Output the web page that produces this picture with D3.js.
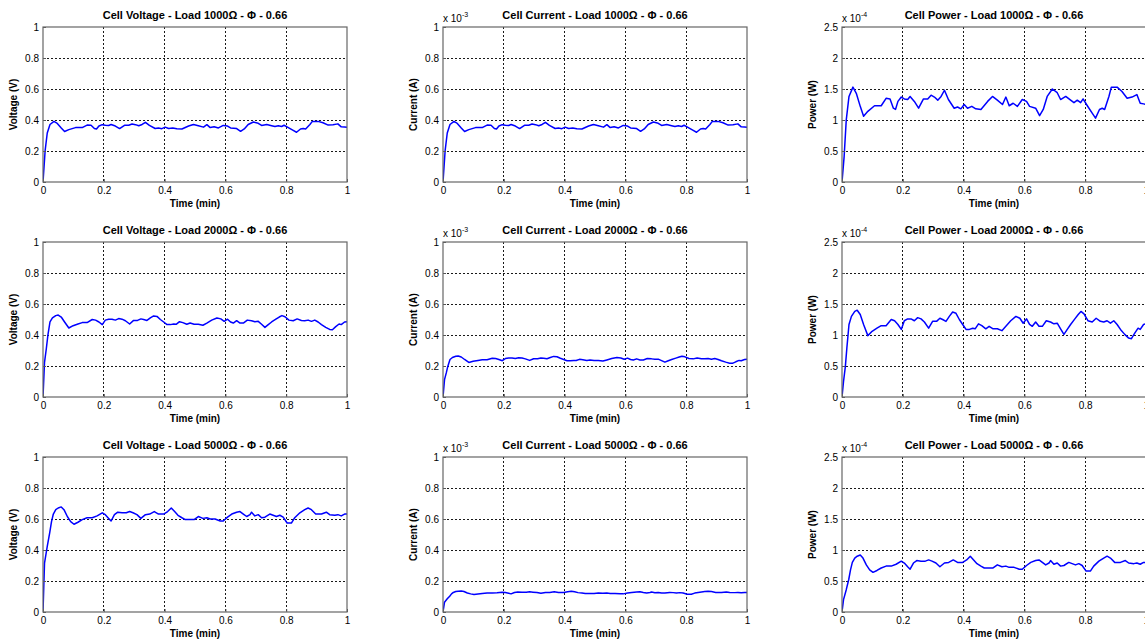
<!DOCTYPE html>
<html>
<head>
<meta charset="utf-8">
<script src="https://cdn.jsdelivr.net/npm/d3@7"></script>
<style>
  html, body { margin: 0; padding: 0; background: #fff; }
  svg { display: block; font-family: "Liberation Sans", Arial, sans-serif; }
</style>
</head>
<body>
<svg id="chart" width="1145" height="643"></svg>
<script>
// Tick values
const timeTicks = [0, 0.2, 0.4, 0.6, 0.8, 1];
const voltTicks = [0, 0.2, 0.4, 0.6, 0.8, 1];
const currTicks = [0, 0.2, 0.4, 0.6, 0.8, 1];
const powerTicks = [0, 0.5, 1, 1.5, 2, 2.5];

// Load 1000 Ω — time (min), voltage (V), current (×1e-3 A), power (×1e-4 W)
const time1000 = [0, 0.007, 0.014, 0.023, 0.036, 0.047, 0.06, 0.071, 0.085, 0.107,
  0.129, 0.145, 0.158, 0.169, 0.176, 0.184, 0.195, 0.205, 0.216, 0.224,
  0.238, 0.252, 0.268, 0.282, 0.293, 0.304, 0.315, 0.326, 0.337, 0.35,
  0.369, 0.38, 0.391, 0.402, 0.413, 0.427, 0.44, 0.457, 0.479, 0.495,
  0.511, 0.528, 0.539, 0.55, 0.563, 0.577, 0.593, 0.607, 0.617, 0.637,
  0.65, 0.662, 0.675, 0.692, 0.708, 0.719, 0.736, 0.752, 0.763, 0.774,
  0.785, 0.793, 0.807, 0.823, 0.834, 0.847, 0.856, 0.864, 0.878, 0.886,
  0.905, 0.921, 0.938, 0.954, 0.97, 0.981, 0.992, 1.0];
const volt1000 = [0, 0.202, 0.316, 0.371, 0.391, 0.378, 0.349, 0.326, 0.338, 0.351,
  0.351, 0.367, 0.366, 0.345, 0.342, 0.361, 0.370, 0.366, 0.365, 0.371,
  0.361, 0.345, 0.366, 0.366, 0.374, 0.370, 0.363, 0.371, 0.385, 0.365,
  0.345, 0.348, 0.344, 0.354, 0.345, 0.349, 0.344, 0.342, 0.361, 0.371,
  0.363, 0.354, 0.370, 0.351, 0.356, 0.349, 0.365, 0.361, 0.349, 0.345,
  0.327, 0.342, 0.371, 0.387, 0.379, 0.365, 0.371, 0.363, 0.358, 0.363,
  0.358, 0.366, 0.351, 0.333, 0.321, 0.342, 0.345, 0.342, 0.371, 0.391,
  0.391, 0.382, 0.367, 0.370, 0.375, 0.356, 0.355, 0.354];
const curr1000 = [0, 0.202, 0.316, 0.371, 0.391, 0.378, 0.349, 0.326, 0.338, 0.351,
  0.351, 0.367, 0.366, 0.345, 0.342, 0.361, 0.370, 0.366, 0.365, 0.371,
  0.361, 0.345, 0.366, 0.366, 0.374, 0.370, 0.363, 0.371, 0.385, 0.365,
  0.345, 0.348, 0.344, 0.354, 0.345, 0.349, 0.344, 0.342, 0.361, 0.371,
  0.363, 0.354, 0.370, 0.351, 0.356, 0.349, 0.365, 0.361, 0.349, 0.345,
  0.327, 0.342, 0.371, 0.387, 0.379, 0.365, 0.371, 0.363, 0.358, 0.363,
  0.358, 0.366, 0.351, 0.333, 0.321, 0.342, 0.345, 0.342, 0.371, 0.391,
  0.391, 0.382, 0.367, 0.370, 0.375, 0.356, 0.355, 0.354];
const power1000 = [0, 0.41, 1.0, 1.38, 1.53, 1.43, 1.22, 1.06, 1.14, 1.23,
  1.23, 1.35, 1.34, 1.19, 1.17, 1.30, 1.37, 1.34, 1.33, 1.38,
  1.30, 1.19, 1.34, 1.34, 1.40, 1.37, 1.32, 1.38, 1.48, 1.33,
  1.19, 1.21, 1.18, 1.25, 1.19, 1.22, 1.18, 1.17, 1.30, 1.38,
  1.32, 1.25, 1.37, 1.23, 1.27, 1.22, 1.33, 1.30, 1.22, 1.19,
  1.07, 1.17, 1.38, 1.50, 1.44, 1.33, 1.38, 1.32, 1.28, 1.32,
  1.28, 1.34, 1.23, 1.11, 1.03, 1.17, 1.19, 1.17, 1.38, 1.53,
  1.53, 1.46, 1.35, 1.37, 1.41, 1.27, 1.26, 1.25];

// Load 2000 Ω
const time2000 = [0, 0.005, 0.011, 0.016, 0.023, 0.031, 0.042, 0.05, 0.06, 0.071,
  0.085, 0.099, 0.115, 0.129, 0.145, 0.162, 0.173, 0.184, 0.195, 0.205,
  0.216, 0.227, 0.238, 0.249, 0.26, 0.271, 0.285, 0.298, 0.311, 0.322,
  0.331, 0.342, 0.353, 0.364, 0.375, 0.386, 0.397, 0.408, 0.419, 0.43,
  0.438, 0.449, 0.46, 0.473, 0.484, 0.497, 0.511, 0.526, 0.539, 0.555,
  0.572, 0.585, 0.596, 0.607, 0.617, 0.626, 0.637, 0.648, 0.659, 0.672,
  0.686, 0.697, 0.708, 0.719, 0.73, 0.741, 0.752, 0.766, 0.777, 0.786,
  0.796, 0.809, 0.823, 0.836, 0.85, 0.861, 0.872, 0.883, 0.894, 0.905,
  0.916, 0.93, 0.943, 0.952, 0.963, 0.974, 0.981, 0.992, 1.0];
const volt2000 = [0, 0.224, 0.313, 0.397, 0.484, 0.510, 0.525, 0.529, 0.516, 0.484,
  0.445, 0.460, 0.471, 0.480, 0.480, 0.500, 0.496, 0.484, 0.467, 0.496,
  0.502, 0.502, 0.496, 0.506, 0.502, 0.492, 0.471, 0.494, 0.494, 0.504,
  0.500, 0.494, 0.510, 0.523, 0.520, 0.500, 0.484, 0.467, 0.467, 0.471,
  0.469, 0.486, 0.480, 0.469, 0.477, 0.469, 0.469, 0.463, 0.477, 0.496,
  0.510, 0.504, 0.488, 0.502, 0.484, 0.477, 0.492, 0.477, 0.477, 0.496,
  0.492, 0.486, 0.488, 0.469, 0.449, 0.467, 0.484, 0.502, 0.516, 0.525,
  0.518, 0.496, 0.492, 0.504, 0.494, 0.492, 0.496, 0.488, 0.496, 0.484,
  0.467, 0.449, 0.436, 0.434, 0.454, 0.471, 0.467, 0.484, 0.486];
const curr2000 = [0, 0.112, 0.157, 0.199, 0.242, 0.255, 0.263, 0.265, 0.258, 0.242,
  0.223, 0.230, 0.236, 0.240, 0.240, 0.250, 0.248, 0.242, 0.234, 0.248,
  0.251, 0.251, 0.248, 0.253, 0.251, 0.246, 0.236, 0.247, 0.247, 0.252,
  0.250, 0.247, 0.255, 0.262, 0.260, 0.250, 0.242, 0.234, 0.234, 0.236,
  0.235, 0.243, 0.240, 0.235, 0.239, 0.235, 0.235, 0.232, 0.239, 0.248,
  0.255, 0.252, 0.244, 0.251, 0.242, 0.239, 0.246, 0.239, 0.239, 0.248,
  0.246, 0.243, 0.244, 0.235, 0.225, 0.234, 0.242, 0.251, 0.258, 0.263,
  0.259, 0.248, 0.246, 0.252, 0.247, 0.246, 0.248, 0.244, 0.248, 0.242,
  0.234, 0.225, 0.218, 0.217, 0.227, 0.236, 0.234, 0.242, 0.243];
const power2000 = [0, 0.25, 0.49, 0.79, 1.17, 1.30, 1.38, 1.40, 1.33, 1.17,
  0.99, 1.06, 1.11, 1.15, 1.15, 1.25, 1.23, 1.17, 1.09, 1.23,
  1.26, 1.26, 1.23, 1.28, 1.26, 1.21, 1.11, 1.22, 1.22, 1.27,
  1.25, 1.22, 1.30, 1.37, 1.35, 1.25, 1.17, 1.09, 1.09, 1.11,
  1.10, 1.18, 1.15, 1.10, 1.14, 1.10, 1.10, 1.07, 1.14, 1.23,
  1.30, 1.27, 1.19, 1.26, 1.17, 1.14, 1.21, 1.14, 1.14, 1.23,
  1.21, 1.18, 1.19, 1.10, 1.01, 1.09, 1.17, 1.26, 1.33, 1.38,
  1.34, 1.23, 1.21, 1.27, 1.22, 1.21, 1.23, 1.19, 1.23, 1.17,
  1.09, 1.01, 0.95, 0.94, 1.03, 1.11, 1.09, 1.17, 1.18];

// Load 5000 Ω
const time5000 = [0, 0.005, 0.014, 0.022, 0.028, 0.034, 0.042, 0.05, 0.06, 0.069,
  0.08, 0.091, 0.102, 0.115, 0.129, 0.145, 0.162, 0.178, 0.195, 0.205,
  0.216, 0.224, 0.235, 0.246, 0.26, 0.274, 0.285, 0.296, 0.309, 0.322,
  0.337, 0.351, 0.366, 0.38, 0.397, 0.41, 0.422, 0.433, 0.444, 0.457,
  0.468, 0.482, 0.497, 0.511, 0.526, 0.539, 0.55, 0.566, 0.583, 0.593,
  0.607, 0.621, 0.637, 0.648, 0.659, 0.67, 0.681, 0.686, 0.697, 0.708,
  0.719, 0.73, 0.746, 0.757, 0.768, 0.779, 0.79, 0.803, 0.817, 0.828,
  0.845, 0.861, 0.872, 0.883, 0.897, 0.916, 0.932, 0.943, 0.96, 0.97,
  0.981, 0.992, 1.0];
const volt5000 = [0, 0.316, 0.424, 0.510, 0.583, 0.632, 0.660, 0.671, 0.678, 0.660,
  0.616, 0.583, 0.566, 0.579, 0.596, 0.608, 0.608, 0.620, 0.640, 0.628,
  0.604, 0.587, 0.628, 0.644, 0.640, 0.640, 0.648, 0.640, 0.628, 0.604,
  0.628, 0.632, 0.648, 0.632, 0.632, 0.648, 0.671, 0.648, 0.624, 0.608,
  0.596, 0.596, 0.596, 0.616, 0.604, 0.608, 0.600, 0.600, 0.587, 0.587,
  0.612, 0.632, 0.644, 0.648, 0.632, 0.616, 0.628, 0.644, 0.620, 0.628,
  0.608, 0.612, 0.632, 0.624, 0.616, 0.624, 0.612, 0.574, 0.574, 0.608,
  0.640, 0.660, 0.671, 0.660, 0.632, 0.632, 0.644, 0.628, 0.624, 0.628,
  0.620, 0.632, 0.632];
const curr5000 = [0, 0.063, 0.085, 0.102, 0.117, 0.126, 0.132, 0.134, 0.136, 0.132,
  0.123, 0.117, 0.113, 0.116, 0.119, 0.122, 0.122, 0.124, 0.128, 0.126,
  0.121, 0.117, 0.126, 0.129, 0.128, 0.128, 0.130, 0.128, 0.126, 0.121,
  0.126, 0.126, 0.130, 0.126, 0.126, 0.130, 0.134, 0.130, 0.125, 0.122,
  0.119, 0.119, 0.119, 0.123, 0.121, 0.122, 0.120, 0.120, 0.117, 0.117,
  0.122, 0.126, 0.129, 0.130, 0.126, 0.123, 0.126, 0.129, 0.124, 0.126,
  0.122, 0.122, 0.126, 0.125, 0.123, 0.125, 0.122, 0.115, 0.115, 0.122,
  0.128, 0.132, 0.134, 0.132, 0.126, 0.126, 0.129, 0.126, 0.125, 0.126,
  0.124, 0.126, 0.126];
const power5000 = [0, 0.20, 0.36, 0.52, 0.68, 0.80, 0.87, 0.90, 0.92, 0.87,
  0.76, 0.68, 0.64, 0.67, 0.71, 0.74, 0.74, 0.77, 0.82, 0.79,
  0.73, 0.69, 0.79, 0.83, 0.82, 0.82, 0.84, 0.82, 0.79, 0.73,
  0.79, 0.80, 0.84, 0.80, 0.80, 0.84, 0.90, 0.84, 0.78, 0.74,
  0.71, 0.71, 0.71, 0.76, 0.73, 0.74, 0.72, 0.72, 0.69, 0.69,
  0.75, 0.80, 0.83, 0.84, 0.80, 0.76, 0.79, 0.83, 0.77, 0.79,
  0.74, 0.75, 0.80, 0.78, 0.76, 0.78, 0.75, 0.66, 0.66, 0.74,
  0.82, 0.87, 0.90, 0.87, 0.80, 0.80, 0.83, 0.79, 0.78, 0.79,
  0.77, 0.80, 0.80];

// Panel table: one row per subplot
const panels = [
  { row: 0, col: 0, title: "Cell Voltage - Load 1000Ω - Φ - 0.66", ylabel: "Voltage (V)", t: time1000, v: volt1000, ticks: voltTicks, exp: null },
  { row: 0, col: 1, title: "Cell Current - Load 1000Ω - Φ - 0.66", ylabel: "Current (A)", t: time1000, v: curr1000, ticks: currTicks, exp: "-3" },
  { row: 0, col: 2, title: "Cell Power - Load 1000Ω - Φ - 0.66", ylabel: "Power (W)", t: time1000, v: power1000, ticks: powerTicks, exp: "-4" },
  { row: 1, col: 0, title: "Cell Voltage - Load 2000Ω - Φ - 0.66", ylabel: "Voltage (V)", t: time2000, v: volt2000, ticks: voltTicks, exp: null },
  { row: 1, col: 1, title: "Cell Current - Load 2000Ω - Φ - 0.66", ylabel: "Current (A)", t: time2000, v: curr2000, ticks: currTicks, exp: "-3" },
  { row: 1, col: 2, title: "Cell Power - Load 2000Ω - Φ - 0.66", ylabel: "Power (W)", t: time2000, v: power2000, ticks: powerTicks, exp: "-4" },
  { row: 2, col: 0, title: "Cell Voltage - Load 5000Ω - Φ - 0.66", ylabel: "Voltage (V)", t: time5000, v: volt5000, ticks: voltTicks, exp: null },
  { row: 2, col: 1, title: "Cell Current - Load 5000Ω - Φ - 0.66", ylabel: "Current (A)", t: time5000, v: curr5000, ticks: currTicks, exp: "-3" },
  { row: 2, col: 2, title: "Cell Power - Load 5000Ω - Φ - 0.66", ylabel: "Power (W)", t: time5000, v: power5000, ticks: powerTicks, exp: "-4" }
];

const svg = d3.select("#chart");
svg.append("rect").attr("width", 1145).attr("height", 643).attr("fill", "#fff");

const colLeft = [43, 443, 842];
const rowTop = [27, 242, 457];
const pw = 304, ph = 155;
const fmt = d => String(+d.toFixed(2));

panels.forEach((p, i) => {
  const g = svg.append("g").attr("transform", `translate(${colLeft[p.col]},${rowTop[p.row]})`);
  const x = d3.scaleLinear().domain([0, 1]).range([0, pw]);
  const y = d3.scaleLinear().domain([p.ticks[0], p.ticks[p.ticks.length - 1]]).range([ph, 0]);

  // dotted grid
  const grid = g.append("g").attr("class", "grid");
  grid.selectAll("line.gx").data(timeTicks.slice(1, -1)).join("line")
    .attr("x1", d => x(d)).attr("x2", d => x(d)).attr("y1", 0).attr("y2", ph);
  grid.selectAll("line.gy").data(p.ticks.slice(1, -1)).join("line")
    .attr("y1", d => y(d)).attr("y2", d => y(d)).attr("x1", 0).attr("x2", pw);
  grid.selectAll("line")
    .attr("stroke", "#000").attr("stroke-width", 0.9).attr("stroke-dasharray", "2,2")
    .attr("shape-rendering", "crispEdges");

  // trace
  const clipId = "clip" + i;
  g.append("clipPath").attr("id", clipId).append("rect").attr("width", pw).attr("height", ph);
  const pts = d3.range(Math.min(p.t.length, p.v.length)).map(k => [p.t[k], p.v[k]]);
  g.append("path").datum(pts)
    .attr("clip-path", `url(#${clipId})`)
    .attr("fill", "none").attr("stroke", "#0000ff").attr("stroke-width", 1.5)
    .attr("stroke-linejoin", "round")
    .attr("d", d3.line().x(d => x(d[0])).y(d => y(d[1])));

  // axes
  const xa = g.append("g").attr("transform", `translate(0,${ph})`)
    .call(d3.axisBottom(x).tickValues(timeTicks).tickFormat(fmt).tickSizeInner(-3).tickSizeOuter(0).tickPadding(5));
  const ya = g.append("g")
    .call(d3.axisLeft(y).tickValues(p.ticks).tickFormat(fmt).tickSizeInner(-3).tickSizeOuter(0).tickPadding(4));
  [xa, ya].forEach(a => {
    a.select(".domain").remove();
    a.selectAll(".tick line").attr("stroke", "#555");
    a.selectAll("text").attr("font-size", 10).attr("fill", "#000")
      .attr("font-family", "'Liberation Sans', Arial, sans-serif");
  });

  // box
  g.append("rect").attr("width", pw).attr("height", ph)
    .attr("fill", "none").attr("stroke", "#666").attr("stroke-width", 1.2);

  // title and labels
  g.append("text").attr("x", pw / 2).attr("y", -8).attr("text-anchor", "middle")
    .attr("font-size", 11).attr("font-weight", "bold").text(p.title);
  g.append("text").attr("x", pw / 2).attr("y", ph + 25).attr("text-anchor", "middle")
    .attr("font-size", 10).attr("font-weight", "bold").text("Time (min)");
  g.append("text").attr("transform", `translate(-26.5,${ph / 2}) rotate(-90)`)
    .attr("text-anchor", "middle").attr("font-size", 10).attr("font-weight", "bold").text(p.ylabel);

  // scale exponent
  if (p.exp) {
    const e = g.append("text").attr("x", 0).attr("y", -5).attr("font-size", 10);
    e.append("tspan").text("x 10");
    e.append("tspan").attr("dy", -5).attr("font-size", 7).text(p.exp);
  }
});
</script>
</body>
</html>
